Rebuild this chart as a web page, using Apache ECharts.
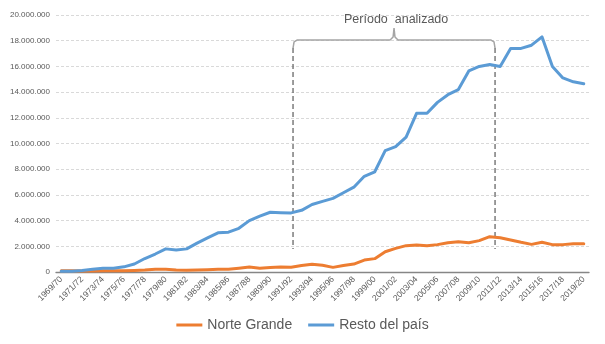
<!DOCTYPE html>
<html>
<head>
<meta charset="utf-8">
<script src="https://cdn.jsdelivr.net/npm/echarts@6/dist/echarts.min.js"></script>
<style>
html,body{margin:0;padding:0;background:#fff;}
#chart{width:605px;height:344px;}
</style>
</head>
<body>
<div id="chart"></div>
<script>
const categories = ["1969/70","1970/71","1971/72","1972/73","1973/74","1974/75","1975/76","1976/77","1977/78","1978/79",
"1979/80","1980/81","1981/82","1982/83","1983/84","1984/85","1985/86","1986/87","1987/88","1988/89",
"1989/90","1990/91","1991/92","1992/93","1993/94","1994/95","1995/96","1996/97","1997/98","1998/99",
"1999/00","2000/01","2001/02","2002/03","2003/04","2004/05","2005/06","2006/07","2007/08","2008/09",
"2009/10","2010/11","2011/12","2012/13","2013/14","2014/15","2015/16","2016/17","2017/18","2018/19","2019/20"];

const norteGrande = [100000,100000,80000,80000,100000,100000,100000,120000,150000,220000,
220000,150000,130000,150000,180000,220000,220000,300000,380000,300000,
350000,380000,370000,500000,600000,520000,360000,500000,620000,930000,
1040000,1580000,1840000,2050000,2100000,2050000,2130000,2280000,2360000,2280000,
2440000,2750000,2670000,2490000,2310000,2150000,2310000,2130000,2130000,2200000,2200000];

const restoDelPais = [50000,60000,120000,220000,300000,300000,400000,620000,1050000,1400000,
1800000,1720000,1800000,2250000,2650000,3050000,3100000,3400000,4000000,4350000,
4650000,4620000,4600000,4800000,5250000,5500000,5730000,6170000,6600000,7450000,
7800000,9450000,9750000,10500000,12350000,12350000,13200000,13800000,14200000,15650000,
16000000,16150000,16000000,17400000,17400000,17650000,18300000,16000000,15100000,14800000,14650000];

const yTicks = {min: 0, max: 20000000, interval: 2000000};

// Annotation: "Período analizado" (category-index units / values)
const periodText = "Período  analizado";
const periodStart = 22.18;
const periodEnd = 41.51;
const braceValue = 18050000;
const braceTipValue = 18990000;
const braceCornerValue = 17430000;
const dashBottomValue = 1790000;

const mid = (periodStart + periodEnd) / 2;
const bracePts = [
  [periodStart, braceCornerValue],
  [periodStart + 0.1, 17900000],
  [periodStart + 0.38, braceValue],
  [mid - 0.38, braceValue],
  [mid - 0.09, 18290000],
  [mid, braceTipValue],
  [mid + 0.09, 18290000],
  [mid + 0.38, braceValue],
  [periodEnd - 0.38, braceValue],
  [periodEnd - 0.1, 17900000],
  [periodEnd, braceCornerValue]
];

const fmt = v => String(v).replace(/\B(?=(\d{3})+(?!\d))/g, '.');
const FONT = '"Liberation Sans", Arial, sans-serif';

const chart = echarts.init(document.getElementById('chart'), null, {renderer: 'canvas'});
chart.setOption({
  animation: false,
  grid: {left: 56, right: 16, top: 15, bottom: 72, containLabel: false},
  legend: {
    data: ['Norte Grande', 'Resto del país'],
    bottom: 7,
    left: 'center',
    icon: 'rect',
    itemWidth: 26,
    itemHeight: 3,
    itemGap: 16,
    textStyle: {fontFamily: FONT, fontSize: 14, color: '#595959'}
  },
  xAxis: [{
    type: 'category',
    data: categories,
    boundaryGap: true,
    axisLine: {lineStyle: {color: '#868686', width: 1.3}},
    axisTick: {show: false},
    axisLabel: {interval: 1, rotate: 45, margin: 6, fontFamily: FONT, fontSize: 8.5, color: '#595959'},
    splitLine: {show: false}
  }, {
    type: 'value', min: -0.5, max: 50.5, show: false
  }],
  yAxis: {
    type: 'value',
    min: yTicks.min, max: yTicks.max, interval: yTicks.interval,
    axisLine: {show: false},
    axisTick: {show: false},
    axisLabel: {margin: 6, fontFamily: FONT, fontSize: 8, color: '#595959', formatter: fmt},
    splitLine: {lineStyle: {color: '#D9D9D9', type: [3, 2], width: 1}}
  },
  series: [
    {
      name: 'Norte Grande', type: 'line', data: norteGrande,
      symbol: 'none', z: 3,
      lineStyle: {color: '#ED7D31', width: 3, cap: 'round', join: 'round'},
      itemStyle: {color: '#ED7D31'}
    },
    {
      name: 'Resto del país', type: 'line', data: restoDelPais,
      symbol: 'none', z: 3,
      lineStyle: {color: '#5B9BD5', width: 3, cap: 'round', join: 'round'},
      itemStyle: {color: '#5B9BD5'}
    },
    {
      name: 'brace', type: 'line', xAxisIndex: 1, data: bracePts,
      symbol: 'none', silent: true, z: 2,
      lineStyle: {color: '#A5A5A5', width: 1.5},
      markPoint: {
        symbol: 'circle', symbolSize: 0,
        label: {show: true, formatter: periodText, fontFamily: FONT, fontSize: 12.5, color: '#595959', offset: [0, -8]},
        data: [{coord: [mid + 0.2, braceTipValue]}]
      }
    },
    {
      name: 'dashStart', type: 'line', xAxisIndex: 1,
      data: [[periodStart, braceCornerValue], [periodStart, dashBottomValue]],
      symbol: 'none', silent: true, z: 2,
      lineStyle: {color: '#5A5A5A', width: 1.2, type: [5, 3]}
    },
    {
      name: 'dashEnd', type: 'line', xAxisIndex: 1,
      data: [[periodEnd, braceCornerValue], [periodEnd, dashBottomValue]],
      symbol: 'none', silent: true, z: 2,
      lineStyle: {color: '#5A5A5A', width: 1.2, type: [5, 3]}
    }
  ]
});
</script>
</body>
</html>
